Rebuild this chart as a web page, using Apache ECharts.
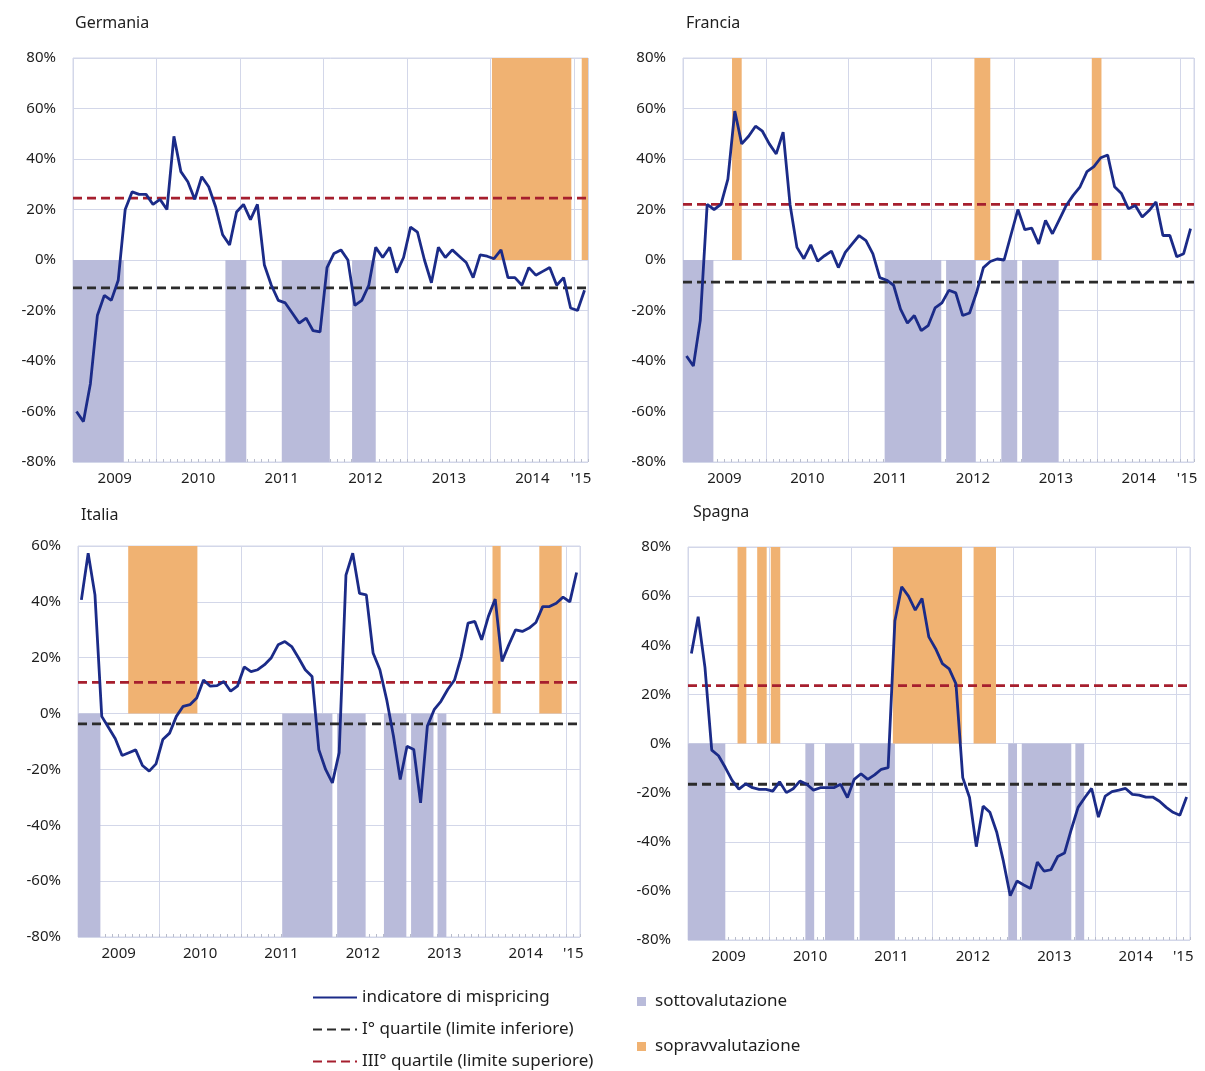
<!DOCTYPE html>
<html>
<head>
<meta charset="utf-8">
<script src="https://cdn.jsdelivr.net/npm/echarts@6/dist/echarts.min.js"></script>
<style>
  html, body { margin: 0; padding: 0; background: #fff; }
  #chart { width: 1205px; height: 1071px; }
</style>
</head>
<body>
<div id="chart"></div>
<script>
// 74 osservazioni mensili: gen 2009 - feb 2015
var MESI = 74;
var yearLabels = ['2009', '2010', '2011', '2012', '2013', '2014', "'15"];
var yearLabelMonths = [6, 18, 30, 42, 54, 66, 73];

// indicatore di mispricing (%)
var germania = [-60, -64, -49, -22, -14, -16, -8, 20, 27, 26, 26, 22, 24, 20, 49, 35, 31, 24, 33, 29,
  21, 10, 6, 19, 22, 16, 22, -2, -10, -16, -17, -21, -25, -23, -28, -28.5, -3, 2.6, 4, 0,
  -18, -16, -10, 5, 1, 5, -5, 1, 13, 11, 0, -9, 5, 1, 4, 1.5, -1, -7, 2, 1.5,
  0.5, 4, -7, -7, -10, -3, -6, -4.5, -3, -10, -7, -19, -20, -12];
var francia = [-38, -42, -24, 22, 20, 22, 32, 59, 46, 49, 53, 51, 46, 42, 50.6, 22, 5, 0.5, 6, -0.5,
  1.7, 3.5, -3, 3, 6.4, 9.7, 7.7, 2.4, -7, -8, -10, -19.5, -25, -22, -28, -26, -19, -17, -12, -13,
  -22, -21, -13, -3, -0.6, 0.4, 0, 10, 20, 12, 12.6, 6.4, 15.7, 10.4, 16, 21.6, 25.6, 29, 35, 37,
  40.5, 41.6, 29, 26.3, 20.3, 21.6, 17, 19.6, 23, 9.7, 9.7, 1.3, 2.5, 12.4];
var italia = [40.7, 57.4, 42.5, -1, -5, -9, -15, -14, -13, -18.6, -20.6, -18, -9.3, -7, -1, 2.6, 3.2, 5.6, 12, 9.8,
  10, 11.5, 8, 9.8, 16.7, 15, 15.7, 17.5, 20, 24.6, 25.8, 24, 20, 15.7, 13.3, -12.9, -20, -24.8, -14, 49.6,
  57.4, 43, 42.5, 21.7, 15.7, 5, -8, -23.6, -11.7, -12.9, -32, -4.5, 1.4, 4.4, 8.6, 12, 20.5, 32.4, 33, 26.4,
  34.8, 41, 18.7, 24.6, 30, 29.4, 30.6, 32.6, 38.3, 38.3, 39.5, 41.7, 40, 50.5];
var spagna = [36.6, 51.6, 31, -2.7, -5, -9.8, -15, -18.6, -16.4, -18, -18.7, -18.7, -19.4, -15.6, -20, -18.4, -15.3, -16.6, -19, -18,
  -18, -18, -16.6, -22, -14.6, -12.3, -14.6, -12.8, -10.5, -9.8, 50, 63.8, 60, 54.3, 59, 43.4, 38.6, 32.5, 30.4, 24.3,
  -13.9, -22, -42, -25.5, -28, -36, -48, -62, -56, -57.6, -59, -48.3, -52, -51.4, -46, -44.6, -35, -26, -22, -18.3,
  -30, -21.4, -19.6, -19, -18.3, -20.7, -21, -21.8, -21.8, -23.5, -26, -28, -29.2, -21.8];

// quartili: [I°, III°]
var germaniaQ = [-11, 24.5];
var franciaQ = [-8.8, 22];
var italiaQ = [-3.7, 11.2];
var spagnaQ = [-16.6, 23.6];

// periodi di sottovalutazione / sopravvalutazione, in mesi da gen 2009
var germaniaSotto = [[0, 7.3], [21.9, 24.9], [30, 36.9], [40.1, 43.5]];
var germaniaSopra = [[60.2, 71.6], [73.1, 74]];
var franciaSotto = [[0, 4.4], [29.2, 37.4], [38.1, 42.4], [46.1, 48.4], [49.1, 54.4]];
var franciaSopra = [[7.1, 8.5], [42.2, 44.5], [59.2, 60.6]];
var italiaSotto = [[0, 3.3], [30.1, 37.5], [38.2, 42.4], [45.1, 48.4], [49.1, 52.4], [53, 54.3]];
var italiaSopra = [[7.4, 17.6], [61.1, 62.3], [68, 71.3]];
var spagnaSotto = [[0, 5.5], [17.3, 18.6], [20.2, 24.5], [25.3, 30.5], [47.2, 48.5], [49.2, 56.5], [57.1, 58.4]];
var spagnaSopra = [[7.3, 8.6], [10.2, 11.6], [12.2, 13.6], [30.2, 40.4], [42.1, 45.4]];

var panels = [
  { name: 'Germania', values: germania, q: germaniaQ, sotto: germaniaSotto, sopra: germaniaSopra, yMax: 80 },
  { name: 'Francia', values: francia, q: franciaQ, sotto: franciaSotto, sopra: franciaSopra, yMax: 80 },
  { name: 'Italia', values: italia, q: italiaQ, sotto: italiaSotto, sopra: italiaSopra, yMax: 60 },
  { name: 'Spagna', values: spagna, q: spagnaQ, sotto: spagnaSotto, sopra: spagnaSopra, yMax: 80 }
];

var layout = [
  { grid: { left: 73, top: 58, width: 515, height: 404 }, title: [70, 10] },
  { grid: { left: 683, top: 58, width: 511, height: 404 }, title: [681, 10] },
  { grid: { left: 78, top: 546, width: 502, height: 391 }, title: [76, 502] },
  { grid: { left: 688, top: 547, width: 502, height: 393 }, title: [688, 499] }
];

var FONT = "'Noto Sans', 'Open Sans', sans-serif";
var TEXT = '#1e1e1e';
var LINE_COLOR = '#1b2b88';
var Q1_COLOR = '#2b2b2b';
var Q3_COLOR = '#a61f2e';
var SOTTO_COLOR = '#b9bbda';
var SOPRA_COLOR = '#f0b272';
var GRID_COLOR = '#d3d7e9';

var NOME_LINEA = 'indicatore di mispricing';
var NOME_Q1 = 'I° quartile (limite inferiore)';
var NOME_Q3 = 'III° quartile (limite superiore)';

var monthTicks = [];
for (var m = 0; m <= MESI; m++) monthTicks.push(m);

var option = {
  backgroundColor: '#fff',
  animation: false,
  textStyle: { fontFamily: FONT },
  title: [],
  grid: [],
  xAxis: [],
  yAxis: [],
  series: [],
  legend: [
    {
      selectedMode: false, orient: 'vertical', left: 312, top: 989, height: 82, padding: 0,
      itemWidth: 44, itemHeight: 12, itemGap: 15,
      itemStyle: { opacity: 0 },
      textStyle: { fontSize: 17, color: TEXT, fontFamily: FONT },
      data: [NOME_LINEA, NOME_Q1, NOME_Q3]
    },
    {
      selectedMode: false, orient: 'vertical', left: 637, top: 993, height: 70, padding: 0,
      itemWidth: 9, itemHeight: 9, itemGap: 28,
      textStyle: { fontSize: 17, color: TEXT, fontFamily: FONT, padding: [0, 0, 0, 4] },
      data: [{ name: 'sottovalutazione', icon: 'rect' }, { name: 'sopravvalutazione', icon: 'rect' }]
    }
  ]
};

panels.forEach(function (p, k) {
  var L = layout[k];
  option.title.push({
    text: p.name, left: L.title[0], top: L.title[1],
    textStyle: { fontSize: 16, fontWeight: 'normal', color: TEXT, fontFamily: FONT }
  });
  option.grid.push(Object.assign({
    show: true, borderColor: GRID_COLOR, borderWidth: 1, outerBoundsMode: 'none'
  }, L.grid));

  // asse con griglia annuale ed etichette
  option.xAxis.push({
    type: 'value', gridIndex: k, position: 'bottom', min: 0, max: MESI, interval: 12,
    axisLine: { show: false }, axisTick: { show: false },
    splitLine: { show: true, lineStyle: { color: GRID_COLOR, width: 1 } },
    axisLabel: {
      customValues: yearLabelMonths,
      formatter: function (v) { return yearLabels[yearLabelMonths.indexOf(v)]; },
      margin: 9, fontSize: 15, color: TEXT, fontFamily: FONT
    }
  });
  // tacche mensili
  option.xAxis.push({
    type: 'value', gridIndex: k, position: 'bottom', min: 0, max: MESI,
    axisLine: { show: false }, splitLine: { show: false }, axisLabel: { show: false },
    axisTick: { show: true, inside: true, length: 3, customValues: monthTicks, lineStyle: { color: '#b8bccb' } }
  });
  option.yAxis.push({
    type: 'value', gridIndex: k, min: -80, max: p.yMax, interval: 20,
    axisLine: { show: false }, axisTick: { show: false },
    splitLine: { lineStyle: { color: GRID_COLOR, width: 1 } },
    axisLabel: { formatter: '{value}%', fontSize: 15, color: TEXT, margin: 17, fontFamily: FONT }
  });

  var xi = 2 * k;
  option.series.push({
    name: 'sottovalutazione', type: 'line', xAxisIndex: xi, yAxisIndex: k, data: [],
    color: SOTTO_COLOR, itemStyle: { color: SOTTO_COLOR }, z: 1,
    markArea: {
      silent: true, itemStyle: { color: SOTTO_COLOR },
      data: p.sotto.map(function (b) { return [{ xAxis: b[0], yAxis: 0 }, { xAxis: b[1], yAxis: -80 }]; })
    }
  });
  option.series.push({
    name: 'sopravvalutazione', type: 'line', xAxisIndex: xi, yAxisIndex: k, data: [],
    color: SOPRA_COLOR, itemStyle: { color: SOPRA_COLOR }, z: 1,
    markArea: {
      silent: true, itemStyle: { color: SOPRA_COLOR },
      data: p.sopra.map(function (b) { return [{ xAxis: b[0], yAxis: 0 }, { xAxis: b[1], yAxis: p.yMax }]; })
    }
  });
  option.series.push({
    name: NOME_Q1, type: 'line', xAxisIndex: xi, yAxisIndex: k, symbol: 'none', silent: true,
    data: [[0, p.q[0]], [MESI, p.q[0]]], color: Q1_COLOR,
    lineStyle: { color: Q1_COLOR, width: 2.8, type: [9, 5] }, z: 3
  });
  option.series.push({
    name: NOME_Q3, type: 'line', xAxisIndex: xi, yAxisIndex: k, symbol: 'none', silent: true,
    data: [[0, p.q[1]], [MESI, p.q[1]]], color: Q3_COLOR,
    lineStyle: { color: Q3_COLOR, width: 2.8, type: [9, 5] }, z: 3
  });
  option.series.push({
    name: NOME_LINEA, type: 'line', xAxisIndex: xi, yAxisIndex: k, symbol: 'none', silent: true,
    data: p.values.map(function (v, i) { return [i + 0.5, v]; }), color: LINE_COLOR,
    lineStyle: { color: LINE_COLOR, width: 2.8 }, z: 4
  });
});

var chart = echarts.init(document.getElementById('chart'), null, { renderer: 'canvas' });
chart.setOption(option);
</script>
</body>
</html>
